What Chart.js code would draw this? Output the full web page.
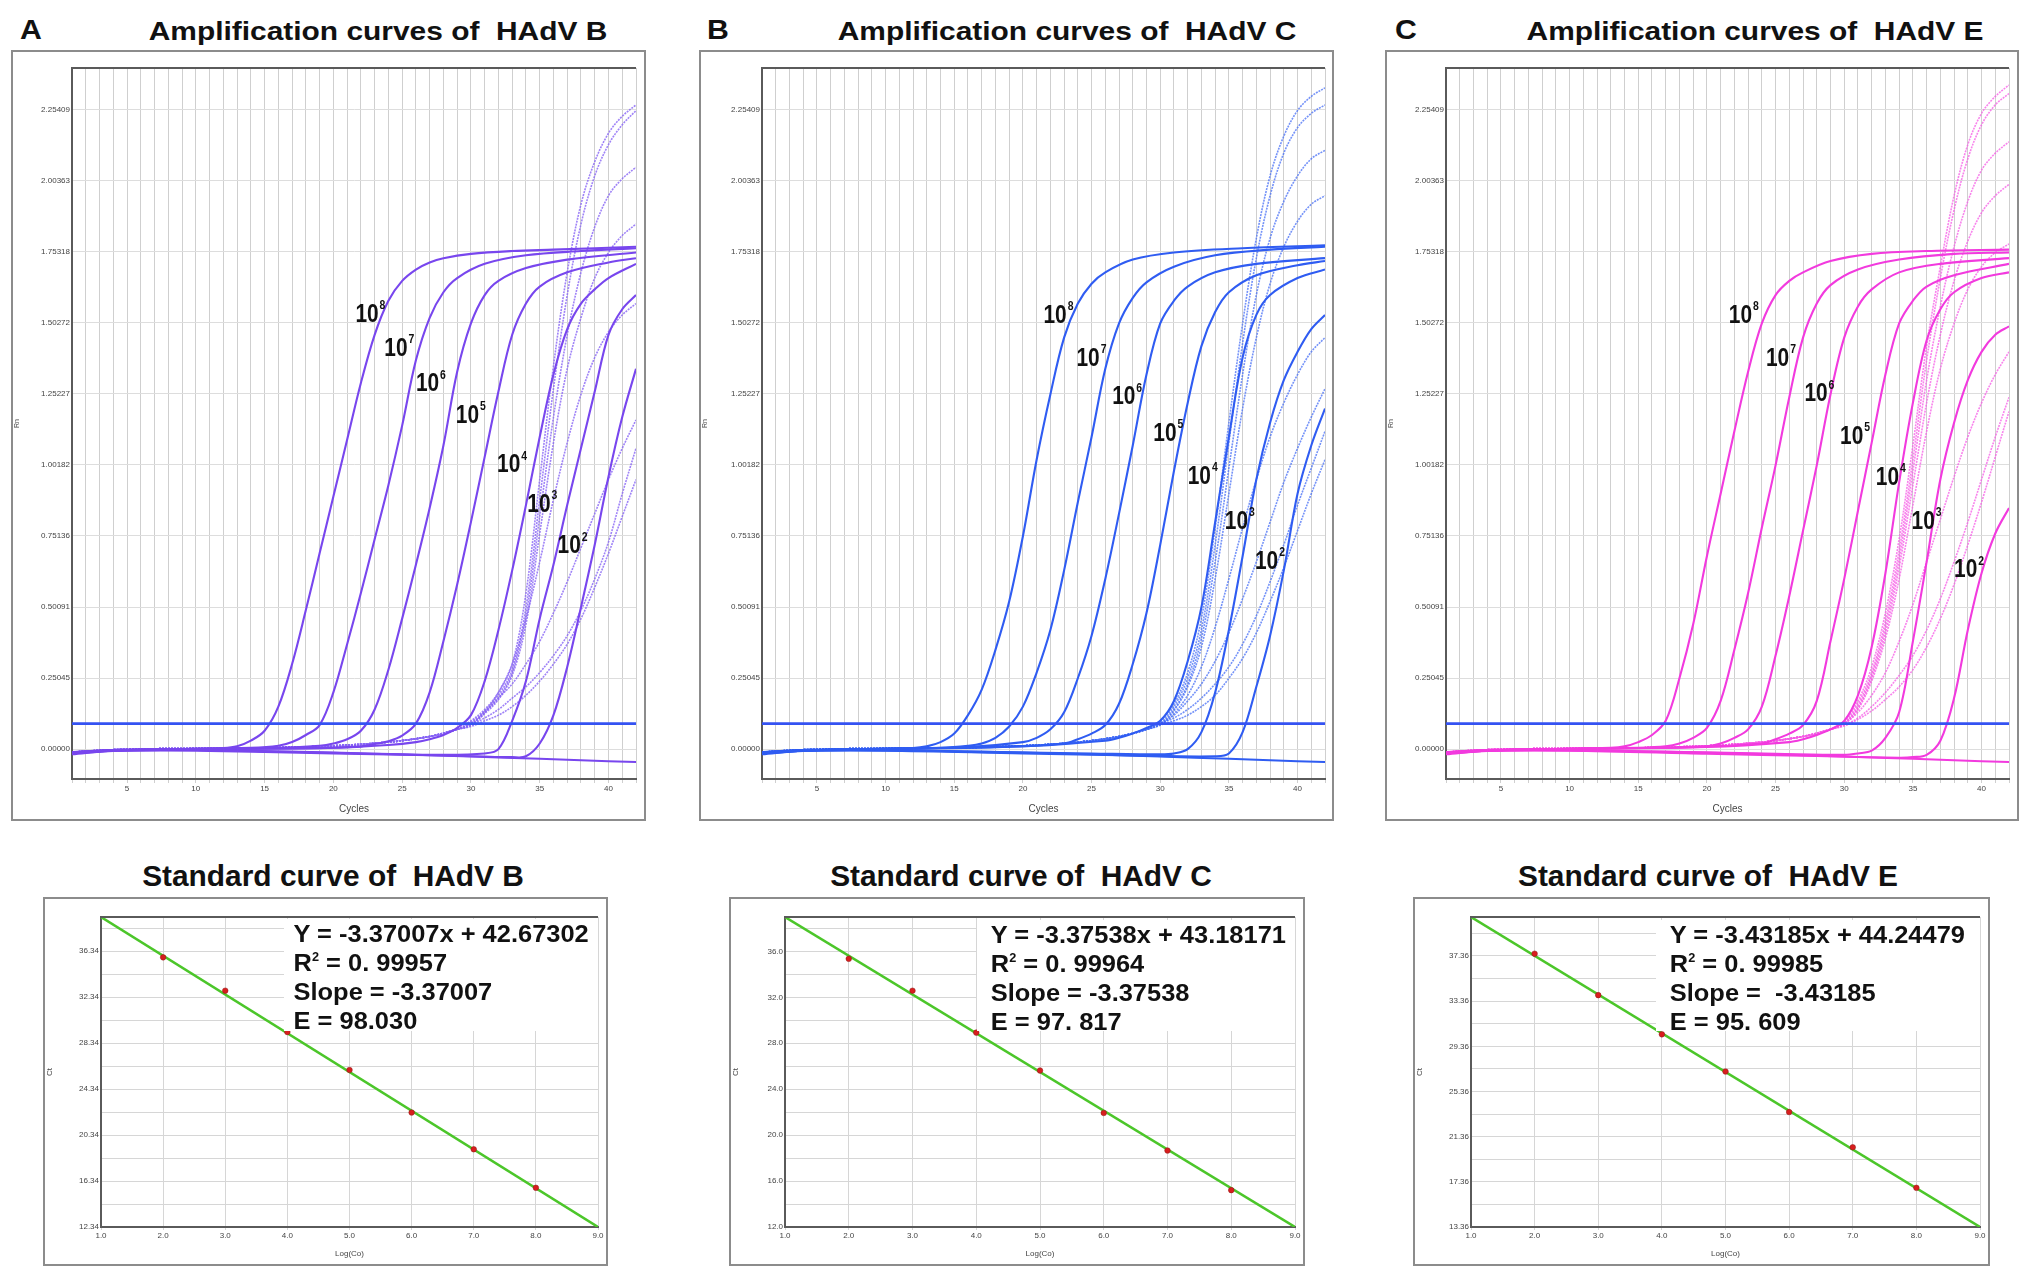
<!DOCTYPE html>
<html>
<head>
<meta charset="utf-8">
<script src="https://cdn.jsdelivr.net/npm/chart.js@4.4.1/dist/chart.umd.min.js"></script>
<style>
  html, body { margin: 0; padding: 0; background: #fff; }
  #page { position: relative; width: 2031px; height: 1279px; background: #fff; overflow: hidden;
          font-family: "Liberation Sans", Arial, Helvetica, sans-serif; color: #111; }
  .frame { position: absolute; box-sizing: border-box; border: 2px solid #8c8c8c; }
  .abs { position: absolute; }
  .letter, .title { position: absolute; font-weight: bold; white-space: pre; line-height: 1; }
  .letter { font-size: 27px; transform: scaleX(1.12); transform-origin: left top; }
  .title { font-size: 26px; transform: translateX(-50%) scaleX(1.15); transform-origin: center top; }
  .stitle { position: absolute; font-weight: bold; white-space: pre; line-height: 1; font-size: 29px;
            transform: translateX(-50%) scaleX(1.03); transform-origin: center top; }
  .eqbox { position: absolute; background: #fff; }
  .eqbox .txt { font-weight: bold; font-size: 24px; line-height: 29px; white-space: pre;
                transform: scaleX(1.06); transform-origin: left top; }
  .eqbox sup { font-size: 12px; vertical-align: 10px; line-height: 0; }
</style>
</head>
<body>
<div id="page">
  <div class="letter" style="left:20px; top:17px;">A</div>
  <div class="title" style="left:378px; top:18px;">Amplification curves of  HAdV B</div>
  <div class="letter" style="left:707px; top:17px;">B</div>
  <div class="title" style="left:1067px; top:18px;">Amplification curves of  HAdV C</div>
  <div class="letter" style="left:1395px; top:17px;">C</div>
  <div class="title" style="left:1755px; top:18px;">Amplification curves of  HAdV E</div>

  <div class="frame" style="left:11px; top:50px; width:635px; height:771px;"></div>
  <div class="frame" style="left:699px; top:50px; width:635px; height:771px;"></div>
  <div class="frame" style="left:1385px; top:50px; width:634px; height:771px;"></div>
  <canvas id="ampB" class="abs" width="631" height="767" style="left:13px; top:52px;"></canvas>
  <canvas id="ampC" class="abs" width="631" height="767" style="left:701px; top:52px;"></canvas>
  <canvas id="ampE" class="abs" width="630" height="767" style="left:1387px; top:52px;"></canvas>

  <div class="stitle" style="left:333px; top:862px;">Standard curve of  HAdV B</div>
  <div class="stitle" style="left:1021px; top:862px;">Standard curve of  HAdV C</div>
  <div class="stitle" style="left:1708px; top:862px;">Standard curve of  HAdV E</div>

  <div class="frame" style="left:43px; top:897px; width:565px; height:369px;"></div>
  <div class="frame" style="left:729px; top:897px; width:576px; height:369px;"></div>
  <div class="frame" style="left:1413px; top:897px; width:577px; height:369px;"></div>
  <canvas id="stdB" class="abs" width="561" height="365" style="left:45px; top:899px;"></canvas>
  <canvas id="stdC" class="abs" width="572" height="365" style="left:731px; top:899px;"></canvas>
  <canvas id="stdE" class="abs" width="573" height="365" style="left:1415px; top:899px;"></canvas>

  <div class="eqbox" style="left:284px; top:919px; width:314px; height:112px;">
    <div class="txt" style="padding-left:9px;">Y = -3.37007x + 42.67302
R<sup>2</sup> = 0. 99957
Slope = -3.37007
E = 98.030</div>
  </div>
  <div class="eqbox" style="left:977px; top:920px; width:318px; height:111px;">
    <div class="txt" style="padding-left:13px;">Y = -3.37538x + 43.18171
R<sup>2</sup> = 0. 99964
Slope = -3.37538
E = 97. 817</div>
  </div>
  <div class="eqbox" style="left:1656px; top:920px; width:324px; height:111px;">
    <div class="txt" style="padding-left:13px;">Y = -3.43185x + 44.24479
R<sup>2</sup> = 0. 99985
Slope =  -3.43185
E = 95. 609</div>
  </div>
</div>

<script>
// ---- axis ticks ----
const rnTicks = [0, 0.25045, 0.50091, 0.75136, 1.00182, 1.25227, 1.50272, 1.75318, 2.00363, 2.25409];
const cycleGrid = Array.from({ length: 42 }, (_, i) => i + 1);
const cycleLabels = [5, 10, 15, 20, 25, 30, 35, 40];
const exponents = ['8', '7', '6', '5', '4', '3', '2'];
const threshold = 0.09;

// ---- HAdV B (panel A): standards 10^8 .. 10^2, [cycle, Rn] ----
const ampB_std = [
  [[1,-0.012],[4,-0.003],[8,0],[12,0.004],[13,0.01],[14,0.03],[15,0.065],[16,0.15],[17,0.3],[18,0.49],[19,0.69],[20,0.89],[21,1.09],[22,1.29],[23,1.46],[24,1.58],[25,1.65],[26,1.69],[27,1.715],[28,1.73],[30,1.745],[33,1.755],[36,1.76],[42,1.77]],
  [[1,-0.015],[4,-0.004],[8,0],[14,0.005],[16,0.012],[17,0.025],[18,0.05],[19,0.085],[20,0.2],[21,0.37],[22,0.55],[23,0.74],[24,0.93],[25,1.14],[26,1.37],[27,1.52],[28,1.61],[29,1.66],[31,1.71],[34,1.74],[38,1.755],[42,1.765]],
  [[1,-0.01],[4,-0.003],[8,0],[16,0.005],[19,0.012],[20,0.02],[21,0.035],[22,0.065],[23,0.14],[24,0.28],[25,0.46],[26,0.65],[27,0.85],[28,1.07],[29,1.33],[30,1.5],[31,1.6],[32,1.65],[34,1.695],[37,1.725],[42,1.75]],
  [[1,-0.018],[4,-0.005],[8,0],[18,0.003],[22,0.01],[23,0.018],[24,0.028],[25,0.048],[26,0.09],[27,0.2],[28,0.38],[29,0.58],[30,0.8],[31,1.03],[32,1.26],[33,1.46],[34,1.57],[35,1.63],[37,1.68],[40,1.715],[42,1.73]],
  [[1,-0.012],[4,-0.004],[8,0],[20,0.005],[24,0.015],[26,0.025],[27,0.035],[28,0.05],[29,0.075],[30,0.12],[31,0.24],[32,0.42],[33,0.63],[34,0.86],[35,1.1],[36,1.32],[37,1.48],[38,1.57],[39,1.62],[40,1.66],[42,1.71]],
  [[1,-0.014],[4,-0.005],[10,-0.003],[16,-0.008],[22,-0.015],[28,-0.02],[31,-0.015],[32,0.0],[33,0.1],[34,0.24],[35,0.46],[36,0.65],[37,0.86],[38,1.06],[39,1.26],[40,1.46],[41,1.55],[42,1.6]],
  [[1,-0.015],[4,-0.006],[10,-0.005],[20,-0.015],[28,-0.022],[33,-0.028],[34,-0.025],[35,0.02],[36,0.12],[37,0.29],[38,0.5],[39,0.72],[40,0.96],[41,1.17],[42,1.34]]
];
// samples: early part shared, then Rn at cycles 30..42
const sampleBase = [[1,-0.01],[5,0],[15,0.005],[20,0.012],[24,0.025],[27,0.045],[29,0.07]];
const tailCycles = [30,31,32,33,34,35,36,37,38,39,40,41,42];
const ampB_samples = [
  [0.1,0.14,0.2,0.3,0.55,0.95,1.35,1.68,1.92,2.07,2.17,2.23,2.27],
  [0.095,0.135,0.19,0.28,0.5,0.88,1.27,1.6,1.85,2.02,2.13,2.2,2.25],
  [0.09,0.13,0.18,0.27,0.47,0.82,1.17,1.46,1.68,1.84,1.95,2.01,2.05],
  [0.085,0.125,0.175,0.26,0.44,0.76,1.08,1.34,1.52,1.66,1.75,1.81,1.85],
  [0.085,0.13,0.2,0.3,0.46,0.66,0.88,1.08,1.25,1.38,1.47,1.53,1.57],
  [0.09,0.13,0.18,0.23,0.3,0.38,0.48,0.59,0.71,0.83,0.95,1.06,1.16],
  [0.085,0.11,0.14,0.18,0.22,0.27,0.33,0.4,0.49,0.6,0.73,0.9,1.06],
  [0.08,0.1,0.12,0.15,0.19,0.24,0.3,0.37,0.46,0.57,0.69,0.82,0.95]
];
const ampB_neg = [[1,-0.01],[5,-0.003],[10,-0.003],[15,-0.007],[20,-0.012],[25,-0.018],[30,-0.026],[35,-0.034],[38,-0.039],[42,-0.045]];

// ---- HAdV C (panel B) ----
const ampC_std = [
  [[1,-0.012],[4,-0.004],[8,0],[12,0.004],[13,0.01],[14,0.025],[15,0.055],[16,0.12],[17,0.21],[18,0.35],[19,0.52],[20,0.75],[21,1.02],[22,1.25],[23,1.45],[24,1.57],[25,1.64],[26,1.68],[28,1.725],[31,1.75],[36,1.765],[42,1.775]],
  [[1,-0.015],[4,-0.005],[8,0],[14,0.005],[16,0.012],[17,0.02],[18,0.04],[19,0.08],[20,0.15],[21,0.27],[22,0.42],[23,0.63],[24,0.87],[25,1.1],[26,1.34],[27,1.5],[28,1.59],[29,1.645],[31,1.7],[34,1.74],[38,1.76],[42,1.77]],
  [[1,-0.01],[4,-0.003],[8,0],[16,0.008],[20,0.025],[21,0.04],[22,0.07],[23,0.13],[24,0.25],[25,0.4],[26,0.6],[27,0.83],[28,1.07],[29,1.32],[30,1.5],[31,1.58],[32,1.63],[34,1.68],[37,1.71],[42,1.73]],
  [[1,-0.018],[4,-0.005],[8,0],[18,0.008],[23,0.02],[24,0.035],[25,0.055],[26,0.085],[27,0.16],[28,0.3],[29,0.48],[30,0.72],[31,0.98],[32,1.22],[33,1.42],[34,1.54],[35,1.61],[37,1.67],[40,1.705],[42,1.72]],
  [[1,-0.012],[4,-0.004],[8,0],[20,0.01],[26,0.03],[27,0.04],[28,0.055],[29,0.075],[30,0.1],[31,0.17],[32,0.31],[33,0.5],[34,0.8],[35,1.1],[36,1.38],[37,1.53],[38,1.6],[40,1.66],[42,1.69]],
  [[1,-0.014],[4,-0.005],[10,-0.004],[18,-0.01],[25,-0.015],[30,-0.018],[31,-0.015],[32,0.0],[33,0.06],[34,0.2],[35,0.42],[36,0.68],[37,0.95],[38,1.15],[39,1.3],[40,1.4],[41,1.48],[42,1.53]],
  [[1,-0.015],[4,-0.006],[10,-0.005],[20,-0.015],[28,-0.022],[34,-0.025],[35,-0.015],[36,0.06],[37,0.22],[38,0.4],[39,0.63],[40,0.9],[41,1.07],[42,1.2]]
];
const ampC_samples = [
  [0.1,0.16,0.27,0.46,0.78,1.15,1.5,1.8,2.02,2.16,2.25,2.3,2.33],
  [0.095,0.15,0.25,0.42,0.72,1.08,1.43,1.73,1.95,2.1,2.19,2.24,2.27],
  [0.09,0.14,0.23,0.39,0.66,0.99,1.32,1.6,1.8,1.93,2.02,2.08,2.11],
  [0.088,0.135,0.22,0.36,0.6,0.9,1.2,1.45,1.64,1.77,1.86,1.92,1.95],
  [0.085,0.125,0.19,0.29,0.43,0.6,0.78,0.95,1.1,1.22,1.32,1.4,1.45],
  [0.09,0.12,0.17,0.23,0.31,0.41,0.53,0.66,0.8,0.94,1.06,1.17,1.27],
  [0.09,0.11,0.14,0.18,0.23,0.29,0.37,0.47,0.59,0.72,0.86,0.99,1.12],
  [0.085,0.1,0.12,0.15,0.19,0.25,0.32,0.41,0.52,0.64,0.77,0.9,1.02]
];
const ampC_neg = [[1,-0.01],[5,-0.003],[10,-0.003],[15,-0.007],[20,-0.012],[25,-0.018],[30,-0.026],[35,-0.034],[38,-0.039],[42,-0.045]];

// ---- HAdV E (panel C) ----
const ampE_std = [
  [[1,-0.012],[4,-0.004],[8,0],[13,0.005],[14,0.01],[15,0.025],[16,0.05],[17,0.1],[18,0.25],[19,0.44],[20,0.68],[21,0.9],[22,1.12],[23,1.33],[24,1.5],[25,1.6],[26,1.65],[27,1.68],[29,1.72],[32,1.745],[36,1.755],[42,1.76]],
  [[1,-0.015],[4,-0.005],[8,0],[15,0.005],[17,0.01],[18,0.02],[19,0.04],[20,0.075],[21,0.17],[22,0.35],[23,0.55],[24,0.78],[25,1.0],[26,1.24],[27,1.45],[28,1.57],[29,1.635],[31,1.69],[34,1.725],[38,1.745],[42,1.75]],
  [[1,-0.01],[4,-0.003],[8,0],[17,0.005],[20,0.01],[21,0.02],[22,0.04],[23,0.07],[24,0.15],[25,0.33],[26,0.54],[27,0.77],[28,1.0],[29,1.25],[30,1.45],[31,1.56],[32,1.62],[34,1.68],[37,1.71],[42,1.73]],
  [[1,-0.018],[4,-0.005],[8,0],[19,0.008],[24,0.02],[25,0.035],[26,0.055],[27,0.085],[28,0.17],[29,0.38],[30,0.6],[31,0.84],[32,1.08],[33,1.32],[34,1.5],[35,1.58],[36,1.63],[38,1.67],[42,1.71]],
  [[1,-0.012],[4,-0.004],[8,0],[20,0.008],[26,0.025],[27,0.035],[28,0.05],[29,0.07],[30,0.1],[31,0.19],[32,0.36],[33,0.62],[34,0.94],[35,1.22],[36,1.44],[37,1.55],[38,1.61],[40,1.66],[42,1.68]],
  [[1,-0.014],[4,-0.005],[10,-0.004],[18,-0.01],[25,-0.016],[30,-0.02],[31,-0.015],[32,-0.005],[33,0.04],[34,0.13],[35,0.38],[36,0.66],[37,0.95],[38,1.15],[39,1.3],[40,1.4],[41,1.46],[42,1.49]],
  [[1,-0.015],[4,-0.006],[10,-0.005],[20,-0.016],[28,-0.024],[34,-0.03],[35,-0.028],[36,-0.02],[37,0.03],[38,0.18],[39,0.42],[40,0.62],[41,0.76],[42,0.85]]
];
const ampE_samples = [
  [0.1,0.17,0.29,0.48,0.74,1.07,1.42,1.7,1.95,2.13,2.24,2.3,2.34],
  [0.095,0.16,0.27,0.45,0.7,1.02,1.37,1.66,1.9,2.08,2.2,2.27,2.31],
  [0.092,0.15,0.26,0.43,0.67,0.98,1.3,1.56,1.77,1.93,2.04,2.1,2.14],
  [0.09,0.145,0.25,0.41,0.64,0.93,1.22,1.46,1.65,1.79,1.89,1.95,1.99],
  [0.088,0.14,0.24,0.39,0.6,0.86,1.12,1.34,1.5,1.62,1.7,1.75,1.78],
  [0.09,0.13,0.19,0.27,0.38,0.51,0.66,0.81,0.96,1.1,1.22,1.32,1.4],
  [0.085,0.11,0.15,0.2,0.26,0.33,0.42,0.53,0.66,0.8,0.95,1.1,1.24],
  [0.082,0.105,0.135,0.175,0.22,0.28,0.36,0.46,0.58,0.72,0.87,1.03,1.19]
];
const ampE_neg = [[1,-0.01],[5,-0.003],[10,-0.003],[15,-0.007],[20,-0.012],[25,-0.018],[30,-0.026],[35,-0.034],[38,-0.039],[42,-0.045]];

// where the 10^n labels sit, in [cycle, Rn]
const labelPosB = [[21.6,1.53],[23.7,1.41],[26.0,1.285],[28.9,1.175],[31.9,1.0],[34.1,0.86],[36.3,0.715]];
const labelPosC = [[21.5,1.526],[23.9,1.374],[26.5,1.24],[29.5,1.11],[32.0,0.96],[34.7,0.80],[36.9,0.66]];
const labelPosE = [[21.6,1.526],[24.3,1.374],[27.1,1.25],[29.7,1.10],[32.3,0.955],[34.9,0.80],[38.0,0.63]];

// ---- standard curves ----
const logCo = [2, 3, 4, 5, 6, 7, 8];
const ctB = [35.8, 32.9, 29.3, 26.0, 22.3, 19.1, 15.75];
const ctC = [35.36, 32.58, 28.93, 25.63, 21.93, 18.66, 15.21];
const ctE = [37.56, 33.89, 30.42, 27.13, 23.54, 20.42, 16.83];
const fitX = [1, 9];
const fitB = [39.31, 12.34];
const fitC = [39.0, 12.0];
const fitE = [40.81, 13.36];
const ctTicksB = [12.34,14.34,16.34,18.34,20.34,22.34,24.34,26.34,28.34,30.34,32.34,34.34,36.34,38.34];
const ctTicksC = [12,14,16,18,20,22,24,26,28,30,32,34,36,38];
const ctTicksE = [13.36,15.36,17.36,19.36,21.36,23.36,25.36,27.36,29.36,31.36,33.36,35.36,37.36,39.36];
const logTicks = [1, 2, 3, 4, 5, 6, 7, 8, 9];

const FONT = '"Liberation Sans", Arial, Helvetica, sans-serif';
Chart.defaults.font.family = FONT;

const toXY = pts => pts.map(p => ({ x: p[0], y: p[1] }));
const withBase = tail => sampleBase.concat(tail.map((v, i) => [tailCycles[i], v]));

const topBorder = {
  id: 'topBorder',
  afterDraw(chart) {
    const { ctx, chartArea: a } = chart;
    ctx.save();
    ctx.strokeStyle = '#5a5a5a';
    ctx.lineWidth = 2;
    ctx.beginPath();
    ctx.moveTo(a.left - 1, a.top);
    ctx.lineTo(a.right, a.top);
    ctx.stroke();
    ctx.restore();
  }
};

const dilutionLabels = {
  id: 'dilutionLabels',
  afterDatasetsDraw(chart, args, opts) {
    if (!opts.positions) return;
    const { ctx, scales: { x, y } } = chart;
    ctx.save();
    ctx.fillStyle = '#111';
    ctx.textBaseline = 'middle';
    opts.positions.forEach((p, i) => {
      const px = x.getPixelForValue(p[0]);
      const py = y.getPixelForValue(p[1]);
      ctx.save();
      ctx.translate(px, py);
      ctx.scale(0.95, 1.15);
      ctx.font = 'bold 22px ' + FONT;
      ctx.fillText('10', 0, 0);
      const w = ctx.measureText('10').width;
      ctx.font = 'bold 11px ' + FONT;
      ctx.fillText(exponents[i], w + 1, -8);
      ctx.restore();
    });
    ctx.restore();
  }
};

function ampChart(id, stds, samples, neg, color, light, labels, yWidth, padRight) {
  const datasets = [];
  datasets.push({ data: toXY([[1, threshold], [42, threshold]]), borderColor: '#3452f2', borderWidth: 2.6, tension: 0 });
  stds.forEach(c => datasets.push({ data: toXY(c), borderColor: color, borderWidth: 2.1 }));
  datasets.push({ data: toXY(neg), borderColor: color, borderWidth: 2 });
  samples.forEach(t => datasets.push({ data: toXY(withBase(t)), borderColor: light, borderWidth: 1.6, borderDash: [2, 1] }));

  new Chart(document.getElementById(id), {
    type: 'line',
    data: { datasets },
    plugins: [topBorder, dilutionLabels],
    options: {
      responsive: false,
      animation: false,
      layout: { padding: { top: 16, right: padRight, left: 0, bottom: 0 } },
      elements: { point: { radius: 0 }, line: { tension: 0.35 } },
      plugins: { legend: { display: false }, tooltip: { enabled: false }, dilutionLabels: { positions: labels } },
      scales: {
        x: {
          type: 'linear', min: 1, max: 42,
          afterBuildTicks: s => { s.ticks = cycleGrid.map(v => ({ value: v })); },
          afterFit: s => { s.height = 40; },
          ticks: { autoSkip: false, maxRotation: 0, padding: 1, color: '#444', font: { size: 8 },
                   callback: v => cycleLabels.includes(v) ? String(v) : '' },
          grid: { color: '#cfcfcf', lineWidth: 1, tickLength: 4 },
          border: { color: '#5a5a5a', width: 2 },
          title: { display: true, text: 'Cycles', color: '#444', font: { size: 10 }, padding: { top: 2, bottom: 4 } }
        },
        y: {
          min: -0.105, max: 2.40,
          afterBuildTicks: s => { s.ticks = rnTicks.map(v => ({ value: v })); },
          afterFit: s => { s.width = yWidth; },
          ticks: { padding: 2, color: '#444', font: { size: 8 }, callback: v => v.toFixed(5) },
          grid: { color: '#dddddd', lineWidth: 1, tickLength: 0 },
          border: { color: '#5a5a5a', width: 2 },
          title: { display: true, text: 'Rn', color: '#444', font: { size: 7 }, padding: 0 }
        }
      }
    }
  });
}

function stdChart(id, ct, fit, ticks, digits, yWidth) {
  new Chart(document.getElementById(id), {
    type: 'line',
    data: {
      datasets: [
        { data: logCo.map((x, i) => ({ x, y: ct[i] })), showLine: false, pointRadius: 2.8,
          pointBackgroundColor: '#d81e1e', pointBorderColor: '#8a1a1a', pointBorderWidth: 0.5 },
        { data: fitX.map((x, i) => ({ x, y: fit[i] })), borderColor: '#4cc62a', borderWidth: 2.5, pointRadius: 0, tension: 0 }
      ]
    },
    plugins: [topBorder],
    options: {
      responsive: false,
      animation: false,
      layout: { padding: { top: 18, right: 8, left: 0, bottom: 0 } },
      plugins: { legend: { display: false }, tooltip: { enabled: false } },
      scales: {
        x: {
          type: 'linear', min: 1, max: 9,
          afterBuildTicks: s => { s.ticks = logTicks.map(v => ({ value: v })); },
          afterFit: s => { s.height = 37; },
          ticks: { maxRotation: 0, padding: 1, color: '#444', font: { size: 8 }, callback: v => v.toFixed(1) },
          grid: { color: '#d6d6d6', tickLength: 3 },
          border: { color: '#5a5a5a', width: 2 },
          title: { display: true, text: 'Log(Co)', color: '#444', font: { size: 8 }, padding: { top: 2, bottom: 5 } }
        },
        y: {
          min: ticks[0], max: fit[0],
          afterBuildTicks: s => { s.ticks = ticks.map(v => ({ value: v })); },
          afterFit: s => { s.width = yWidth; },
          ticks: { padding: 2, color: '#444', font: { size: 8 },
                   callback: (v, i) => i % 2 === 0 ? v.toFixed(digits) : '' },
          grid: { color: '#d6d6d6', tickLength: 0 },
          border: { color: '#5a5a5a', width: 2 },
          title: { display: true, text: 'Ct', color: '#444', font: { size: 8 }, padding: 0 }
        }
      }
    }
  });
}

ampChart('ampB', ampB_std, ampB_samples, ampB_neg, '#7846ee', 'rgba(135,100,245,0.8)', labelPosB, 59, 8);
ampChart('ampC', ampC_std, ampC_samples, ampC_neg, '#2f5cf2', 'rgba(70,110,245,0.75)', labelPosC, 61, 7);
ampChart('ampE', ampE_std, ampE_samples, ampE_neg, '#f23ade', 'rgba(245,90,230,0.75)', labelPosE, 59, 8);

stdChart('stdB', ctB, fitB, ctTicksB, 2, 56);
stdChart('stdC', ctC, fitC, ctTicksC, 1, 54);
stdChart('stdE', ctE, fitE, ctTicksE, 2, 56);
</script>
</body>
</html>
